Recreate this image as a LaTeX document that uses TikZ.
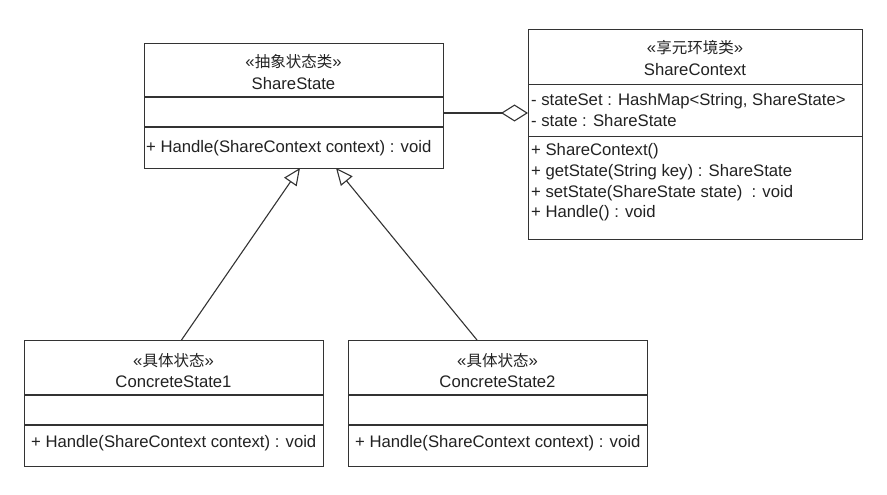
\documentclass[tikz,border=0pt]{standalone}
\usepackage{fontspec}
\setmainfont{Liberation Sans}
\newfontfamily\cjk{Noto Sans CJK SC}
\usetikzlibrary{arrows.meta}
\definecolor{linec}{HTML}{333333}
\definecolor{textc}{HTML}{222222}
\newcommand\stereo[1]{«{\cjk\fontsize{15.5}{21}\selectfont #1}»}
\tikzset{
  classbox/.style={draw=linec, line width=1.1pt, fill=white, inner sep=0pt, anchor=north west},
  divline/.style={draw=linec, line width=1.1pt},
  ltxt/.style={inner sep=0pt, anchor=base west, text=textc, font=\fontsize{16.7}{21}\selectfont},
  ctxt/.style={inner sep=0pt, anchor=base, text=textc, font=\fontsize{16.7}{21}\selectfont},
  inherit/.style={draw=linec, line width=1.1pt, -{Triangle[open, length=17pt, width=15pt, fill=white]}},
  aggr/.style={draw=linec, line width=1.1pt, {Diamond[open, length=27pt, width=17pt, fill=white]}-},
}
\begin{document}
\begin{tikzpicture}[x=1pt, y=-1pt]
\useasboundingbox (0,0) rectangle (887,495);

% ShareState
\node[classbox, minimum width=299pt, minimum height=125pt] (ss) at (144,43) {};
\draw[divline] (144,97) -- (443,97);
\draw[divline] (144,127) -- (443,127);
\node[ctxt] (ssst) at (293.5,67) {\stereo{抽象状态类}};
\node[ctxt] (ssname) at (293.5,89) {ShareState};
\node[ltxt] (ssm) at (146,152) {+ Handle(ShareContext context) : void};

% ShareContext
\node[classbox, minimum width=334pt, minimum height=210pt] (sc) at (528,29) {};
\draw[divline] (528,84.5) -- (862,84.5);
\draw[divline] (528,136.5) -- (862,136.5);
\node[ctxt] (scst) at (695,54) {\stereo{享元环境类}};
\node[ctxt] (scname) at (695,76) {ShareContext};
\node[ltxt] (sca1) at (531,106) {- stateSet : HashMap<String, ShareState>};
\node[ltxt] (sca2) at (531,126.5) {- state : ShareState};
\node[ltxt] (scm1) at (531,155.5) {+ ShareContext()};
\node[ltxt] (scm2) at (531,176.5) {+ getState(String key) : ShareState};
\node[ltxt] (scm3) at (531,197) {+ setState(ShareState state)~ : void};
\node[ltxt] (scm4) at (531,217.5) {+ Handle() : void};

% ConcreteState1
\node[classbox, minimum width=299pt, minimum height=126pt] (c1) at (24,340) {};
\draw[divline] (24,395) -- (323,395);
\draw[divline] (24,425) -- (323,425);
\node[ctxt] (c1st) at (173.5,366) {\stereo{具体状态}};
\node[ctxt] (c1name) at (173.5,387) {ConcreteState1};
\node[ltxt] (c1m) at (31,447) {+ Handle(ShareContext context) : void};

% ConcreteState2
\node[classbox, minimum width=299pt, minimum height=126pt] (c2) at (348,340) {};
\draw[divline] (348,395) -- (647,395);
\draw[divline] (348,425) -- (647,425);
\node[ctxt] (c2st) at (497.5,366) {\stereo{具体状态}};
\node[ctxt] (c2name) at (497.5,387) {ConcreteState2};
\node[ltxt] (c2m) at (355,447) {+ Handle(ShareContext context) : void};

% connector end points
\coordinate (c1top) at (181.5,340);
\coordinate (c2top) at (477,340);
\coordinate (ssb1) at (300,168);
\coordinate (ssb2) at (336,168);
\coordinate (sseast) at (443,113);
\coordinate (scwest) at (528,113);

\draw[inherit] (c1top) -- (ssb1);
\draw[inherit] (c2top) -- (ssb2);
\draw[aggr] (scwest) -- (sseast);
\end{tikzpicture}
\end{document}
